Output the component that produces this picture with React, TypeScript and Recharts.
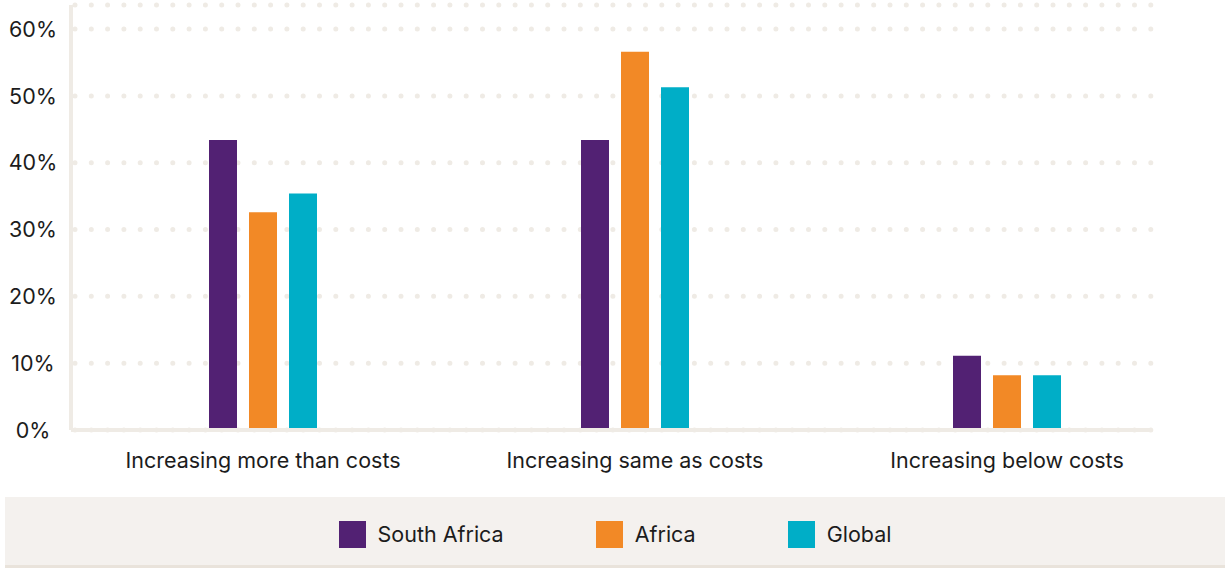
import { Bar, BarChart, CartesianGrid, Legend, XAxis, YAxis } from "recharts";

const CATEGORIES = [
  "Increasing more than costs",
  "Increasing same as costs",
  "Increasing below costs",
];
const SOUTH_AFRICA = [43.4, 43.4, 11.1];
const AFRICA = [32.6, 56.6, 8.2];
const GLOBAL = [35.4, 51.3, 8.2];
const Y_TICKS = [0, 10, 20, 30, 40, 50, 60];

const SERIES = [
  { key: "southAfrica", name: "South Africa", color: "#522173" },
  { key: "africa", name: "Africa", color: "#f28926" },
  { key: "global", name: "Global", color: "#00aec7" },
];

const data = CATEGORIES.map((name, i) => ({
  name,
  southAfrica: SOUTH_AFRICA[i],
  africa: AFRICA[i],
  global: GLOBAL[i],
}));

const FONT = "Inter, 'Noto Sans', sans-serif";
const TEXT = "#1c1c1c";
const RULE = "#efebe5";

function YTick({ y, payload }: any) {
  return (
    <text x={33} y={y} dy="0.36em" textAnchor="middle" fontSize={21.5} fill={TEXT} fontFamily={FONT}>
      {payload.value}%
    </text>
  );
}

function XTick({ x, y, payload }: any) {
  return (
    <text x={x} y={y} dy={30} textAnchor="middle" fontSize={21.5} fill={TEXT} fontFamily={FONT}>
      {payload.value}
    </text>
  );
}

function DotLine(props: any) {
  const { x1, x2, y1, y2 } = props;
  return (
    <line
      x1={x1}
      x2={x2}
      y1={y1}
      y2={y2}
      stroke={RULE}
      strokeWidth={5}
      strokeLinecap="round"
      strokeDasharray="0 16.3"
      strokeDashoffset={-4}
    />
  );
}

function LegendBand() {
  return (
    <div
      style={{
        width: 1220,
        height: 71,
        boxSizing: "border-box",
        paddingTop: 6,
        background: "#f4f1ee",
        borderBottom: "3px solid #e9e3db",
        display: "flex",
        alignItems: "center",
        justifyContent: "center",
        gap: 92,
        fontFamily: FONT,
        fontSize: 21.5,
        color: TEXT,
      }}
    >
      {SERIES.map((s) => (
        <div key={s.key} style={{ display: "flex", alignItems: "center" }}>
          <span style={{ width: 27, height: 27, background: s.color, marginRight: 12 }} />
          <span>{s.name}</span>
        </div>
      ))}
    </div>
  );
}

export default function App() {
  return (
    <div style={{ position: "absolute", left: 0, top: 0 }}>
      <BarChart
        width={1225}
        height={571}
        data={data}
        margin={{ top: 5, right: 74, bottom: 0, left: 0 }}
        barSize={28}
        barGap={12}
      >
        <CartesianGrid vertical={false} horizontal={DotLine} />
        <XAxis
          dataKey="name"
          axisLine={{ stroke: RULE, strokeWidth: 4 }}
          tickLine={false}
          tick={XTick}
          height={67}
          padding={{ left: 6, right: -42 }}
          interval={0}
        />
        <YAxis
          domain={[0, 63.6]}
          ticks={Y_TICKS}
          axisLine={{ stroke: RULE, strokeWidth: 4 }}
          tickLine={false}
          tick={YTick}
          width={71}
        />
        <Legend
          verticalAlign="bottom"
          content={() => <LegendBand />}
          wrapperStyle={{ left: 5, bottom: 0, width: 1220, height: 74 }}
        />
        {SERIES.map((s) => (
          <Bar key={s.key} dataKey={s.key} name={s.name} fill={s.color} isAnimationActive={false} />
        ))}
      </BarChart>
    </div>
  );
}
